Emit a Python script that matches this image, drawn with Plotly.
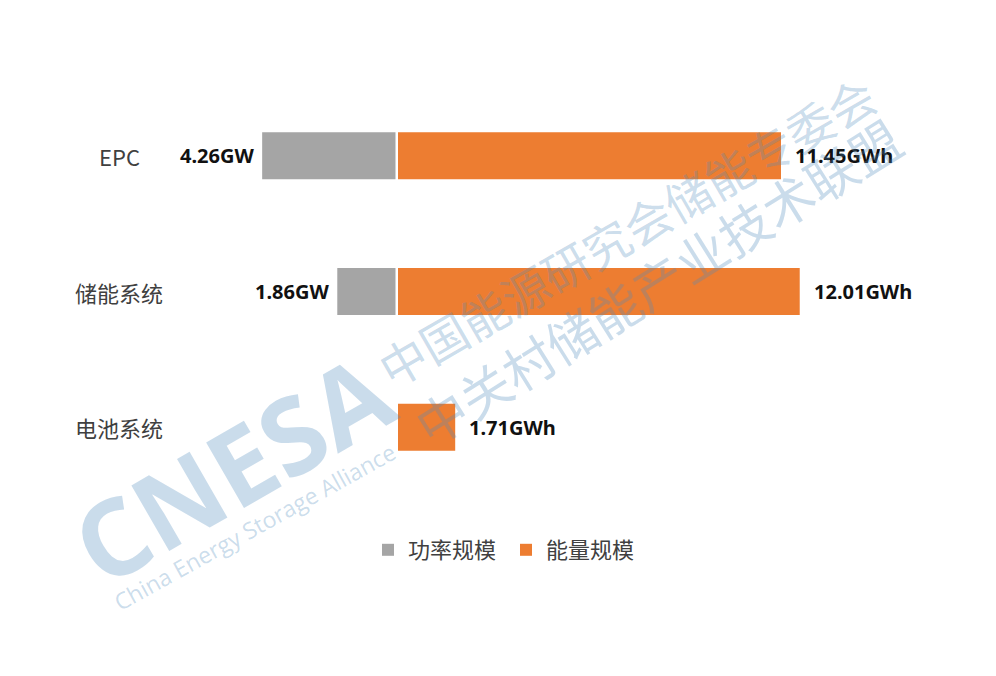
import plotly.graph_objects as go

# ---- data ----
categories = ["EPC", "储能系统", "电池系统"]
power_gw = [4.26, 1.86, None]          # 功率规模 (GW)
energy_gwh = [11.45, 12.01, 1.71]      # 能量规模 (GWh)
series_names = ["功率规模", "能量规模"]
power_unit = "GW"
energy_unit = "GWh"

# ---- layout helpers (page body has an 8px margin) ----
OFF = 8
W, H = 988, 668
M_T, M_B = 80, 181
PLOT_H = H - M_T - M_B


def sx(screen_x):
    return (screen_x - OFF) / W


def sy(screen_y):
    return (H - M_B - (screen_y - OFF)) / PLOT_H


GRAY = "#A5A5A5"
ORANGE = "#ED7D31"
TEXT = "#404040"
CJK = "Noto Sans CJK SC"
WM = "rgba(80,140,190,0.30)"

ZERO_E, SCALE_E = 398 - OFF, 33.45   # energy axis zero (px) and px per GWh
ZERO_P, SCALE_P = 395.5 - OFF, 31.3  # power axis zero (px) and px per GW

fig = go.Figure()
fig.add_trace(go.Bar(
    y=categories,
    x=[(-v if v is not None else None) for v in power_gw],
    orientation="h", name=series_names[0],
    marker=dict(color=GRAY, line=dict(width=0)),
    xaxis="x2", yaxis="y", hoverinfo="skip",
))
fig.add_trace(go.Bar(
    y=categories, x=energy_gwh,
    orientation="h", name=series_names[1],
    marker=dict(color=ORANGE, line=dict(width=0)),
    xaxis="x", yaxis="y", hoverinfo="skip",
))

annotations = []
# category labels
for c in categories:
    annotations.append(dict(
        x=sx(119), y=c, xref="paper", yref="y", text=c, showarrow=False,
        xanchor="center", yanchor="middle",
        font=dict(family=CJK, size=22, color=TEXT),
    ))
# value labels
for c, v in zip(categories, power_gw):
    if v is None:
        continue
    annotations.append(dict(
        x=-v, y=c, xref="x2", yref="y", text=f"<b>{v:.2f}{power_unit}</b>",
        showarrow=False, xanchor="right", yanchor="middle", xshift=-6,
        font=dict(family="Noto Sans", size=20, color="#111111"),
    ))
for c, v in zip(categories, energy_gwh):
    annotations.append(dict(
        x=v, y=c, xref="x", yref="y", text=f"<b>{v:.2f}{energy_unit}</b>",
        showarrow=False, xanchor="left", yanchor="middle", xshift=12,
        font=dict(family="Noto Sans", size=20, color="#111111"),
    ))

# watermark
watermarks = [
    ("CNESA", 231, 468, -30, dict(family="Open Sans", size=106, color=WM, weight=700)),
    ("China Energy Storage Alliance", 254, 527, -29, dict(family="Open Sans", size=23, color=WM)),
    ("中国能源研究会储能专委会", 626, 230, -30, dict(family=CJK, size=47, color=WM)),
    ("中关村储能产业技术联盟", 657, 281, -32, dict(family=CJK, size=51, color=WM)),
]
for t, x, y, ang, f in watermarks:
    annotations.append(dict(
        x=sx(x), y=sy(y), xref="paper", yref="paper", text=t,
        showarrow=False, textangle=ang, xanchor="center", yanchor="middle",
        font=f,
    ))

fig.update_layout(
    width=W, height=H,
    margin=dict(l=0, r=0, t=M_T, b=M_B, pad=0),
    paper_bgcolor="white", plot_bgcolor="white",
    barmode="overlay", bargap=0.654,
    xaxis=dict(range=[-ZERO_E / SCALE_E, (W - ZERO_E) / SCALE_E], visible=False, domain=[0, 1]),
    xaxis2=dict(range=[-ZERO_P / SCALE_P, (W - ZERO_P) / SCALE_P], visible=False, overlaying="x"),
    yaxis=dict(type="category", range=[2.5, -0.5], visible=False),
    showlegend=True,
    legend=dict(
        orientation="h", x=sx(368), xanchor="left", y=sy(550), yanchor="middle",
        font=dict(family=CJK, size=22, color=TEXT),
        bgcolor="rgba(0,0,0,0)", entrywidth=93, entrywidthmode="pixels",
        itemclick=False, itemdoubleclick=False,
    ),
    annotations=annotations,
)

fig.write_html("out.html", config={"displayModeBar": False})
